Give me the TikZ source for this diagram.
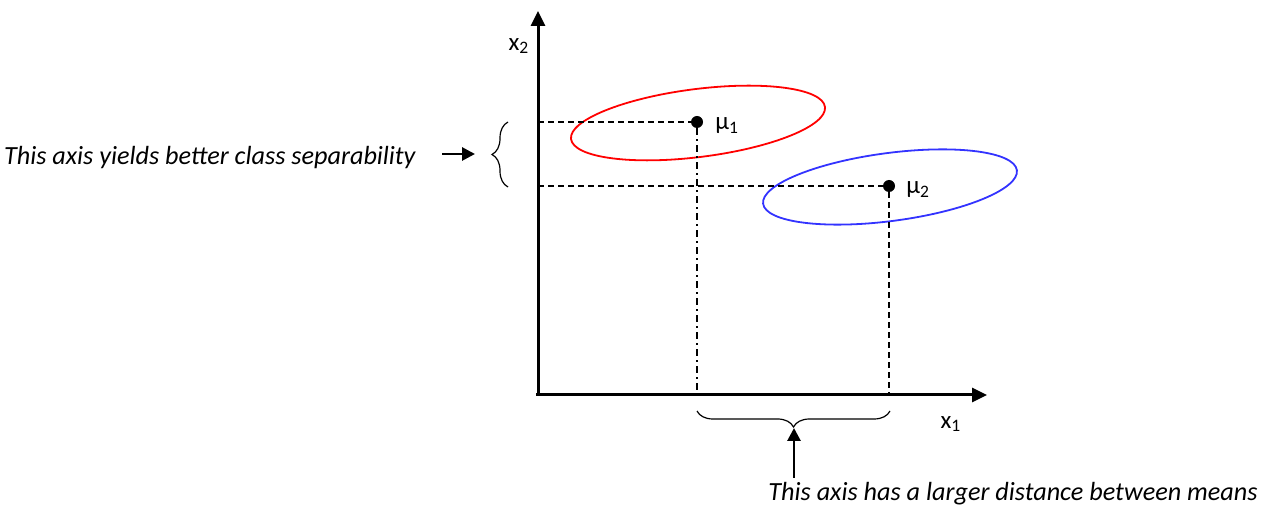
\documentclass[tikz,border=0pt]{standalone}
\usepackage{fontspec}
\setmainfont{Carlito}
\usetikzlibrary{arrows.meta,decorations.pathreplacing}
\begin{document}
\begin{tikzpicture}[x=0.5pt,y=-0.5pt,
  axis/.style={line width=1.5pt,-{Triangle[width=7pt,length=7.5pt]}},
  dsh/.style={line width=0.8pt,dash pattern=on 3pt off 2pt},
  dshdot/.style={line width=0.8pt,dash pattern=on 3.5pt off 2pt on 1pt off 2pt},
  dot/.style={circle,fill=black,inner sep=0pt,minimum size=6pt},
  lab/.style={inner sep=0pt,font=\fontsize{12.5}{15}\selectfont},
  note/.style={inner sep=0pt,font=\fontsize{13.1}{16}\selectfont\itshape},
  bracestyle/.style={line width=0.6pt,decorate,decoration={brace,amplitude=8pt}},
  arr/.style={line width=1.4pt,-{Triangle[width=6.5pt,length=6.5pt]}},
  cls/.style={line width=0.9pt}
]
\useasboundingbox (0,0) rectangle (1264,507);
% axes
\coordinate (O) at (538,395);
\coordinate (ytip) at (538,11);
\coordinate (xtip) at (987,395);
% ellipses
\draw[cls,red,rotate around={7.2:(698,123)}] (698,123) ellipse [x radius=128,y radius=34];
\draw[cls,blue!80!white,rotate around={7.5:(890,187)}] (890,187) ellipse [x radius=128,y radius=34];
% means
\node[dot] (m1) at (697,122) {};
\node[dot] (m2) at (889,186) {};
\node[lab,anchor=west] (m1l) at (715,126) {μ\textsubscript{1}};
\node[lab,anchor=west] (m2l) at (906,190) {μ\textsubscript{2}};
% projections
\coordinate (y1) at (O |- m1);
\coordinate (y2) at (O |- m2);
\coordinate (x1p) at (m1 |- O);
\coordinate (x2p) at (m2 |- O);
\draw[dsh] (y1) -- (m1);
\draw[dsh] (y2) -- (m2);
\draw[dshdot] (m1) -- (x1p);
\draw[dsh] (m2) -- (x2p);
\draw[axis] (O) -- (ytip);
\draw[axis] (O) -- (xtip);
\draw[line width=1.5pt] (540,395) -- (536,395);
\node[lab] (x2l) at (519,46) {x\textsubscript{2}};
\node[lab] (x1l) at (951,424) {x\textsubscript{1}};
% left brace
\coordinate (lb1) at (508,187);
\coordinate (lb2) at (508,122);
\draw[bracestyle] (lb1) -- (lb2);
\coordinate (lbt) at (475,154);
\node[note,anchor=east] (t1) at (416,158) {This axis yields better class separability};
\draw[arr] (t1.east) ++(26,-4) coordinate (t1a) -- (lbt);
% bottom brace
\coordinate (bb1) at (890,411);
\coordinate (bb2) at (697,411);
\draw[bracestyle] (bb1) -- (bb2);
\coordinate (bbt) at (794,428);
\node[note,anchor=east] (t2) at (1258,494) {This axis has a larger distance between means};
\coordinate (t2a) at (794,478);
\draw[arr] (t2a) -- (bbt);
\end{tikzpicture}
\end{document}
